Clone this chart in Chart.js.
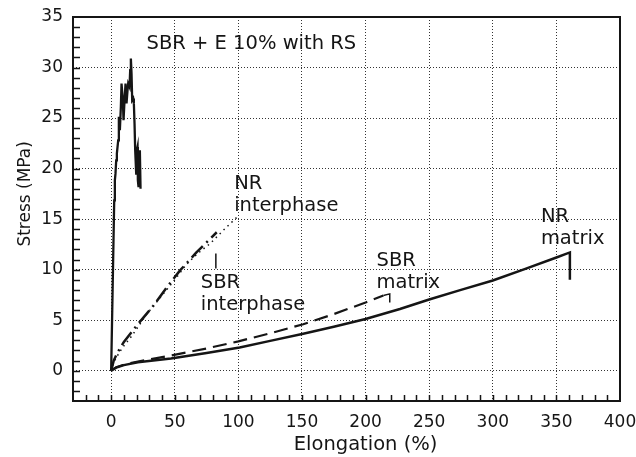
<!DOCTYPE html>
<html>
<head>
<meta charset="utf-8">
<script src="https://cdn.jsdelivr.net/npm/chart.js@4.4.1/dist/chart.umd.min.js"></script>
<style>
  html, body { margin: 0; padding: 0; background: #fff; }
  #wrap { width: 636px; height: 457px; }
</style>
</head>
<body>
<div id="wrap"><canvas id="stressChart"></canvas></div>
<script>
// axis ticks
const xTicks = [0, 50, 100, 150, 200, 250, 300, 350, 400];
const yTicks = [0, 5, 10, 15, 20, 25, 30, 35];

// NR matrix (solid), last point = fracture drop
const nrMatrixX = [0, 4, 10, 21, 47, 75, 101, 125, 151, 175, 200, 227, 250, 275, 300, 325, 350, 360.6, 360.6];
const nrMatrixY = [0, 0.3, 0.55, 0.83, 1.2, 1.75, 2.3, 2.95, 3.65, 4.35, 5.12, 6.1, 7.05, 8.0, 8.92, 10.05, 11.2, 11.7, 9.0];

// SBR matrix (dashed)
const sbrMatrixX = [0, 4, 10, 21, 47, 75, 100, 125, 151, 175, 200, 214];
const sbrMatrixY = [0, 0.35, 0.6, 0.9, 1.5, 2.2, 2.9, 3.7, 4.6, 5.6, 6.75, 7.45];
const sbrMatrixEndX = [214, 219, 219];
const sbrMatrixEndY = [7.45, 7.6, 6.75];

// SBR interphase (dash-dot)
const sbrInterX = [0, 2, 5, 10, 20, 33, 43.5, 54, 67, 75, 83];
const sbrInterY = [0, 1.0, 1.8, 2.85, 4.45, 6.4, 8.2, 9.9, 11.7, 12.7, 13.7];
const sbrInterMarkX = [82.3, 82.3];
const sbrInterMarkY = [11.6, 10.1];

// NR interphase (dotted)
const nrInterX = [0, 2, 4, 9, 16, 28, 41, 50, 59, 68, 78, 89, 99];
const nrInterY = [0, 0.8, 1.3, 2.3, 3.4, 5.6, 7.6, 9.0, 10.5, 11.6, 12.6, 14.0, 15.2];

// SBR + E 10% with RS (jagged)
const sbrEX = [0, 1.2, 2.4, 2.9, 3.4, 3.96, 4.48, 5.53, 6.05, 6.84, 7.63, 8.15, 9.2, 9.72, 10.25, 11.3, 12.08, 12.87, 13.39, 14.44, 14.96, 15.49, 16.01, 16.53, 17.32, 17.85, 18.37, 18.89, 19.68, 20.2, 20.73, 20.99, 21.52, 22.04, 22.56, 23.09];
const sbrEY = [0, 8.4, 16.86, 18.84, 19.5, 20.82, 21.48, 22.8, 25.12, 23.8, 26.11, 28.42, 26.77, 24.79, 26.11, 28.42, 26.44, 27.76, 28.42, 28.09, 29.74, 30.9, 29.41, 26.77, 26.94, 26.44, 24.46, 21.81, 19.5, 21.81, 22.14, 18.84, 18.17, 21.48, 21.81, 18.01];

// text labels: anchor (x, baseline y of first line) in data units
const labelText = [['SBR + E 10% with RS'], ['NR', 'interphase'], ['SBR', 'interphase'], ['SBR', 'matrix'], ['NR', 'matrix']];
const labelX = [27.8, 96.7, 70.5, 208.6, 337.8];
const labelY = [31.8, 18.0, 8.2, 10.34, 14.72];

const xTitle = 'Elongation (%)';
const yTitle = 'Stress (MPa)';

const FONT = "'DejaVu Sans', sans-serif";
const INK = '#151515';

function pts(xs, ys) {
    return xs.map((x, i) => ({ x: x, y: ys[i] }));
}

function line(data, width, dash) {
    return {
        data: data,
        borderColor: INK,
        borderWidth: width,
        borderDash: dash || [],
        pointRadius: 0,
        showLine: true,
        tension: 0,
        fill: false
    };
}

const framePlugin = {
    id: 'frame',
    afterDatasetsDraw(chart) {
        const ctx = chart.ctx;
        const a = chart.chartArea;
        const xs = chart.scales.x;
        const ys = chart.scales.y;
        ctx.save();
        ctx.strokeStyle = INK;
        // minor + major ticks pointing inward
        ctx.lineWidth = 1.5;
        ctx.beginPath();
        for (let v = xs.min + 10; v < xs.max; v += 10) {
            const px = Math.round(xs.getPixelForValue(v)) + 0.5;
            ctx.moveTo(px, a.bottom);
            ctx.lineTo(px, a.bottom - 6);
        }
        for (let v = ys.min + 1; v < ys.max; v += 1) {
            const py = Math.round(ys.getPixelForValue(v)) + 0.5;
            ctx.moveTo(a.left, py);
            ctx.lineTo(a.left + 7, py);
        }
        ctx.stroke();
        // box
        ctx.lineWidth = 2;
        ctx.strokeRect(a.left, a.top, a.right - a.left, a.bottom - a.top);
        ctx.restore();
    },
    afterDraw(chart) {
        const ctx = chart.ctx;
        const xs = chart.scales.x;
        const ys = chart.scales.y;
        ctx.save();
        ctx.fillStyle = INK;
        ctx.textAlign = 'left';
        ctx.textBaseline = 'alphabetic';
        ctx.font = '19.5px ' + FONT;
        labelText.forEach((lines, i) => {
            const px = xs.getPixelForValue(labelX[i]);
            const py = ys.getPixelForValue(labelY[i]);
            lines.forEach((t, j) => ctx.fillText(t, px, py + j * 22));
        });
        // axis titles centred on the 0..max range
        ctx.textAlign = 'center';
        ctx.font = '19.5px ' + FONT;
        ctx.fillText(xTitle, xs.getPixelForValue(200), 450);
        ctx.save();
        ctx.translate(30, ys.getPixelForValue(17.5));
        ctx.rotate(-Math.PI / 2);
        ctx.font = '17px ' + FONT;
        ctx.fillText(yTitle, 0, 0);
        ctx.restore();
        ctx.restore();
    }
};

new Chart(document.getElementById('stressChart'), {
    type: 'scatter',
    data: {
        datasets: [
            line(pts(nrMatrixX, nrMatrixY), 2.5),
            line(pts(sbrMatrixX, sbrMatrixY), 2.2, [14, 7]),
            line(pts(sbrMatrixEndX, sbrMatrixEndY), 1.5),
            line(pts(sbrInterX, sbrInterY), 2.5, [16, 5, 2, 5]),
            line(pts(sbrInterMarkX, sbrInterMarkY), 1.5),
            line(pts(nrInterX, nrInterY), 1.5, [1.5, 4]),
            line(pts(sbrEX, sbrEY), 2.3)
        ]
    },
    options: {
        responsive: true,
        maintainAspectRatio: false,
        animation: false,
        events: [],
        layout: { padding: { top: 17, right: 16, left: 0, bottom: 0 } },
        plugins: {
            legend: { display: false },
            tooltip: { enabled: false }
        },
        scales: {
            x: {
                type: 'linear',
                min: -30,
                max: 400,
                afterBuildTicks: s => { s.ticks = xTicks.map(v => ({ value: v })); },
                afterFit: s => { s.height = 56; s.paddingLeft = 0; s.paddingRight = 0; },
                ticks: {
                    color: INK,
                    font: { family: FONT, size: 17 },
                    padding: 11,
                    maxRotation: 0
                },
                grid: { color: '#333', lineWidth: 1, drawTicks: false },
                border: { display: false, dash: [1, 2] }
            },
            y: {
                type: 'linear',
                min: -3,
                max: 35,
                afterBuildTicks: s => { s.ticks = yTicks.map(v => ({ value: v })); },
                afterFit: s => { s.width = 73; s.paddingTop = 0; s.paddingBottom = 0; },
                ticks: {
                    color: INK,
                    font: { family: FONT, size: 17 },
                    padding: 10
                },
                grid: { color: '#333', lineWidth: 1, drawTicks: false },
                border: { display: false, dash: [1, 2] }
            }
        }
    },
    plugins: [framePlugin]
});
</script>
</body>
</html>
